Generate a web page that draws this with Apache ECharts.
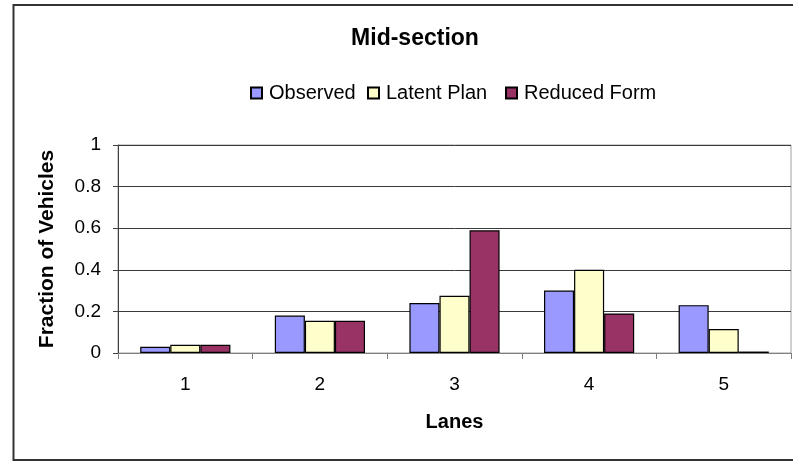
<!DOCTYPE html>
<html>
<head>
<meta charset="utf-8">
<script src="https://cdn.jsdelivr.net/npm/echarts@6/dist/echarts.min.js"></script>
<style>
  html, body { margin: 0; padding: 0; background: #fff; }
  #chart { width: 793px; height: 462px; }
</style>
</head>
<body>
<div id="chart"></div>
<script>
// Lane distribution at the mid-section
const lanes = ['1', '2', '3', '4', '5'];
const observed = [0.03, 0.18, 0.24, 0.30, 0.23];
const latentPlan = [0.04, 0.155, 0.275, 0.40, 0.115];
const reducedForm = [0.04, 0.155, 0.59, 0.19, 0.007];
const seriesNames = ['Observed', 'Latent Plan', 'Reduced Form'];
const seriesColors = ['#9999FF', '#FFFFCC', '#993366'];

const FONT = 'Liberation Sans, Arial, sans-serif';
const chart = echarts.init(document.getElementById('chart'), null, { renderer: 'canvas' });

const seriesData = [observed, latentPlan, reducedForm];
const legendLeft = [250, 367, 505];

chart.setOption({
  animation: false,
  backgroundColor: '#ffffff',
  textStyle: { fontFamily: FONT, color: '#000' },
  title: {
    text: 'Mid-section',
    left: 410,
    textAlign: 'center',
    top: 22,
    textStyle: { fontFamily: FONT, fontSize: 23, fontWeight: 'bold', color: '#000' }
  },
  legend: seriesNames.map((name, i) => ({
    data: [name],
    left: legendLeft[i],
    top: 83,
    padding: 0,
    itemWidth: 11,
    itemHeight: 11,
    itemGap: 6,
    icon: 'rect',
    selectedMode: false,
    textStyle: { fontFamily: FONT, fontSize: 20, color: '#000', padding: [0, 0, 0, 2] }
  })),
  grid: {
    left: 118, right: 2, top: 145, bottom: 109,
    show: true, borderColor: '#a0a0a0', borderWidth: 1, containLabel: false
  },
  xAxis: {
    type: 'category',
    data: lanes,
    name: 'Lanes',
    nameLocation: 'middle',
    nameGap: 59,
    nameTextStyle: { fontFamily: FONT, fontSize: 20, fontWeight: 'bold', color: '#000' },
    axisLine: { lineStyle: { color: '#808080', width: 1 } },
    axisTick: { show: true, length: 6, lineStyle: { color: '#808080' } },
    axisLabel: { fontFamily: FONT, fontSize: 19, color: '#000', margin: 22 },
    splitLine: { show: false }
  },
  yAxis: {
    type: 'value',
    min: 0, max: 1, interval: 0.2,
    name: 'Fraction of Vehicles',
    nameLocation: 'middle',
    nameGap: 60,
    nameTextStyle: { fontFamily: FONT, fontSize: 21, fontWeight: 'bold', color: '#000' },
    axisLine: { show: true, lineStyle: { color: '#404040', width: 1 } },
    axisTick: { show: true, inside: false, length: 5, lineStyle: { color: '#404040' } },
    axisLabel: { fontFamily: FONT, fontSize: 19, color: '#000', margin: 17 },
    splitLine: { show: true, lineStyle: { color: '#3a3a3a', width: 1 } }
  },
  series: seriesNames.map((name, i) => ({
    name: name,
    type: 'bar',
    data: seriesData[i],
    barGap: '0%',
    barCategoryGap: '33%',
    itemStyle: { color: seriesColors[i], borderColor: '#000', borderWidth: 1.2 }
  })),
  graphic: [{
    type: 'rect',
    silent: true,
    z: -1,
    shape: { x: 13.5, y: 5, width: 800, height: 455 },
    style: { fill: 'none', stroke: '#333', lineWidth: 2 }
  }]
});
</script>
</body>
</html>
